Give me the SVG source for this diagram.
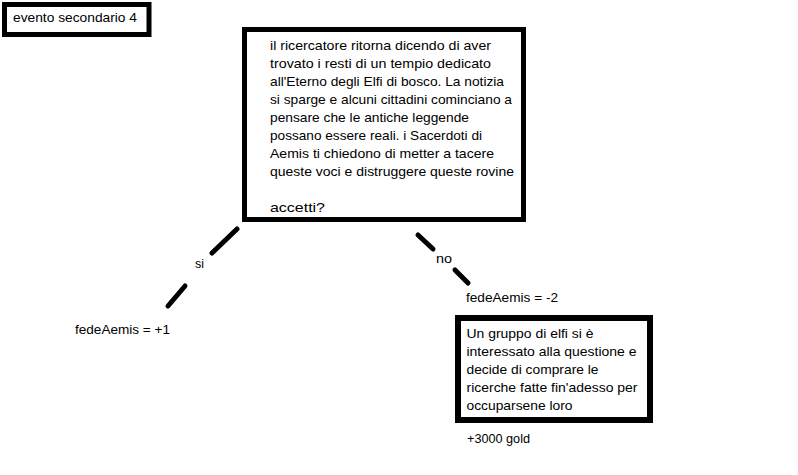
<svg xmlns="http://www.w3.org/2000/svg" width="798" height="475" viewBox="0 0 798 475">
<style>
.box{fill:#fff;stroke:#000;}
.t{font-family:"Liberation Sans",Arial,sans-serif;font-size:13px;fill:#000;}
.c{stroke:#000;stroke-width:5;stroke-linecap:round;fill:none;}
</style>
<rect width="798" height="475" fill="#fff"/>
<g id="title">
<rect class="box" x="4.5" y="4.5" width="144.5" height="30" stroke-width="5"/>
<text class="t" x="13" y="22" textLength="124" lengthAdjust="spacingAndGlyphs">evento secondario 4</text>
</g>
<g id="question">
<rect class="box" x="244.5" y="29.5" width="279" height="190" stroke-width="5"/>
<text class="t" x="270" y="50" textLength="221" lengthAdjust="spacingAndGlyphs">il ricercatore ritorna dicendo di aver</text>
<text class="t" x="270" y="68" textLength="221" lengthAdjust="spacingAndGlyphs">trovato i resti di un tempio dedicato</text>
<text class="t" x="270" y="86" textLength="234" lengthAdjust="spacingAndGlyphs">all'Eterno degli Elfi di bosco. La notizia</text>
<text class="t" x="270" y="104" textLength="242" lengthAdjust="spacingAndGlyphs">si sparge e alcuni cittadini cominciano a</text>
<text class="t" x="270" y="122" textLength="199" lengthAdjust="spacingAndGlyphs">pensare che le antiche leggende</text>
<text class="t" x="270" y="140" textLength="212" lengthAdjust="spacingAndGlyphs">possano essere reali. i Sacerdoti di</text>
<text class="t" x="270" y="158" textLength="224" lengthAdjust="spacingAndGlyphs">Aemis ti chiedono di metter a tacere</text>
<text class="t" x="270" y="176" textLength="244" lengthAdjust="spacingAndGlyphs">queste voci e distruggere queste rovine</text>
<text class="t" x="270" y="212" textLength="55" lengthAdjust="spacingAndGlyphs">accetti?</text>
</g>
<g id="connectors">
<line class="c" x1="237" y1="229" x2="212" y2="253"/>
<line class="c" x1="185" y1="286" x2="168" y2="306"/>
<line class="c" x1="418" y1="235" x2="433" y2="249"/>
<line class="c" x1="455" y1="270" x2="468" y2="283"/>
<text class="t" x="195" y="268" textLength="9" lengthAdjust="spacingAndGlyphs">si</text>
<text class="t" x="436" y="263" textLength="16" lengthAdjust="spacingAndGlyphs">no</text>
</g>
<g id="yes-result">
<text class="t" x="75" y="334" textLength="95" lengthAdjust="spacingAndGlyphs">fedeAemis = +1</text>
</g>
<g id="no-result">
<text class="t" x="466" y="302" textLength="92" lengthAdjust="spacingAndGlyphs">fedeAemis = -2</text>
</g>
<g id="elves">
<rect class="box" x="458" y="318" width="192" height="102" stroke-width="6"/>
<text class="t" x="466.5" y="338" textLength="127" lengthAdjust="spacingAndGlyphs">Un gruppo di elfi si è</text>
<text class="t" x="466.5" y="356" textLength="170" lengthAdjust="spacingAndGlyphs">interessato alla questione e</text>
<text class="t" x="466.5" y="374" textLength="132" lengthAdjust="spacingAndGlyphs">decide di comprare le</text>
<text class="t" x="466.5" y="392" textLength="171" lengthAdjust="spacingAndGlyphs">ricerche fatte fin'adesso per</text>
<text class="t" x="466.5" y="410" textLength="106" lengthAdjust="spacingAndGlyphs">occuparsene loro</text>
</g>
<g id="gold">
<text class="t" x="467" y="443" textLength="63" lengthAdjust="spacingAndGlyphs">+3000 gold</text>
</g>
</svg>
